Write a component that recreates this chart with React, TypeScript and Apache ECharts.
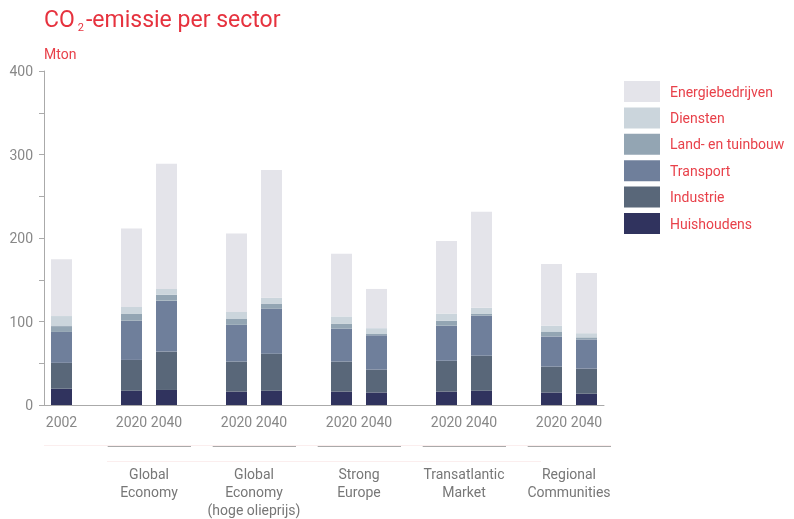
import React, { useEffect, useRef } from "react";
import * as echarts from "echarts";

const categories = ["2002", "", "2020", "2040", "", "2020", "2040", "", "2020", "2040", "", "2020", "2040", "", "2020", "2040"];
const groupLabels = ["Global\nEconomy", "Global\nEconomy\n(hoge olieprijs)", "Strong\nEurope", "Transatlantic\nMarket", "Regional\nCommunities"];
const groupStarts = [2, 5, 8, 11, 14];

const huishoudens = [19.5, null, 17, 18, null, 16, 17, null, 16, 15, null, 16, 17, null, 15, 13.5];
const industrie = [31, null, 37, 46, null, 36, 44.5, null, 36, 27.5, null, 37, 42, null, 31, 30];
const transport = [37, null, 47, 61, null, 44, 54, null, 39.5, 41, null, 42, 48, null, 36, 35];
const landTuinbouw = [7, null, 8.5, 7, null, 7, 6, null, 6, 1.5, null, 6, 2.5, null, 6, 2.5];
const diensten = [12, null, 8, 7, null, 8.5, 7, null, 8.5, 7, null, 8.5, 7, null, 7, 5];
const energiebedrijven = [68, null, 94, 150, null, 94, 153, null, 75, 47, null, 87, 115, null, 74, 72];

const seriesDefs = [
  { name: "Huishoudens", data: huishoudens, color: "#30335e" },
  { name: "Industrie", data: industrie, color: "#596779" },
  { name: "Transport", data: transport, color: "#6f7f9b" },
  { name: "Land- en tuinbouw", data: landTuinbouw, color: "#93a5b3" },
  { name: "Diensten", data: diensten, color: "#cbd5dc" },
  { name: "Energiebedrijven", data: energiebedrijven, color: "#e4e4ea" },
];

const FONT = "Roboto";
const RED = "#e6323e";
const GRAY_TEXT = "#888888";
const AXIS_GRAY = "#aaaaaa";

export default function App() {
  const ref = useRef<HTMLDivElement>(null);
  useEffect(() => {
    if (!ref.current) return;
    const chart = echarts.init(ref.current, undefined, { renderer: "svg" });
    const groupAxisData: string[] = [];
    for (let i = 0; i <= categories.length; i++) groupAxisData.push("");
    groupStarts.forEach((s, gi) => {
      groupAxisData[s + 1] = groupLabels[gi];
    });

    chart.setOption({
      animation: false,
      textStyle: { fontFamily: FONT },
      title: [
        {
          text: "{a|CO}{b|2}{a|-emissie per sector}",
          left: 44,
          top: 6,
          padding: 0,
          textStyle: {
            fontWeight: "normal",
            rich: {
              a: { fontSize: 23, color: RED, fontFamily: FONT, fontWeight: "normal" },
              b: { fontSize: 11, color: RED, fontFamily: FONT, fontWeight: "normal", padding: [16, 2, 0, 3] },
            },
          },
        },
        {
          text: "Mton",
          left: 44,
          top: 47,
          padding: 0,
          textStyle: { fontSize: 14, color: "#e8414a", fontWeight: "normal", fontFamily: FONT },
        },
      ],
      legend: {
        orient: "vertical",
        left: 624,
        top: 81,
        padding: 0,
        itemWidth: 36,
        itemHeight: 21,
        itemGap: 5.4,
        icon: "rect",
        selectedMode: false,
        textStyle: { color: "#e8414a", fontSize: 14, fontFamily: FONT, padding: [0, 0, 0, 5] },
        data: seriesDefs.map((s) => s.name).reverse(),
      },
      grid: { left: 44, right: 190, top: 71, bottom: 114, containLabel: false },
      xAxis: [
        {
          type: "category",
          data: categories,
          axisLine: { lineStyle: { color: AXIS_GRAY, width: 1 } },
          axisTick: { show: false },
          axisLabel: { color: GRAY_TEXT, fontSize: 14, margin: 10, interval: 0 },
        },
        {
          type: "category",
          data: groupAxisData,
          position: "bottom",
          boundaryGap: false,
          axisLine: { show: false },
          axisTick: { show: false },
          axisLabel: { color: "#777777", fontSize: 14, lineHeight: 18, margin: 60, interval: 0 },
        },
      ],
      yAxis: {
        type: "value",
        min: 0,
        max: 400,
        interval: 50,
        axisLine: { show: true, lineStyle: { color: AXIS_GRAY, width: 1 } },
        axisTick: { show: true, length: 5, lineStyle: { color: AXIS_GRAY } },
        splitLine: { show: false },
        axisLabel: {
          color: GRAY_TEXT,
          fontSize: 14,
          margin: 11,
          formatter: (v: number) => (v % 100 === 0 ? String(v) : ""),
        },
      },
      series: seriesDefs.map((s) => ({
        type: "bar",
        name: s.name,
        stack: "total",
        xAxisIndex: 0,
        barWidth: "60%",
        data: s.data,
        itemStyle: { color: s.color },
        emphasis: { disabled: true },
      })),
    });

    const y0 = Math.round(chart.convertToPixel({ yAxisIndex: 0 }, 0) as number);
    const px = (i: number) => chart.convertToPixel({ xAxisIndex: 0 }, i) as number;
    const slot = px(1) - px(0);
    const graphics: any[] = [];
    graphics.push({
      type: "line",
      shape: { x1: px(0) - slot / 2, y1: y0 + 40.5, x2: px(15) + slot * 0.7, y2: y0 + 40.5 },
      style: { stroke: "#fbeeee", lineWidth: 1 },
    });
    graphics.push({
      type: "line",
      shape: { x1: px(2) - slot * 0.7, y1: y0 + 56.5, x2: px(12) + slot * 1.7, y2: y0 + 56.5 },
      style: { stroke: "#fbeeee", lineWidth: 1 },
    });
    groupStarts.forEach((s) => {
      graphics.push({
        type: "line",
        shape: { x1: px(s) - slot * 0.68, y1: y0 + 41.5, x2: px(s + 1) + slot * 0.7, y2: y0 + 41.5 },
        style: { stroke: "#aaaaaa", lineWidth: 1 },
      });
    });
    chart.setOption({ graphic: graphics });

    return () => chart.dispose();
  }, []);
  return <div ref={ref} style={{ position: "fixed", left: 0, top: 0, width: 794, height: 519 }} />;
}
